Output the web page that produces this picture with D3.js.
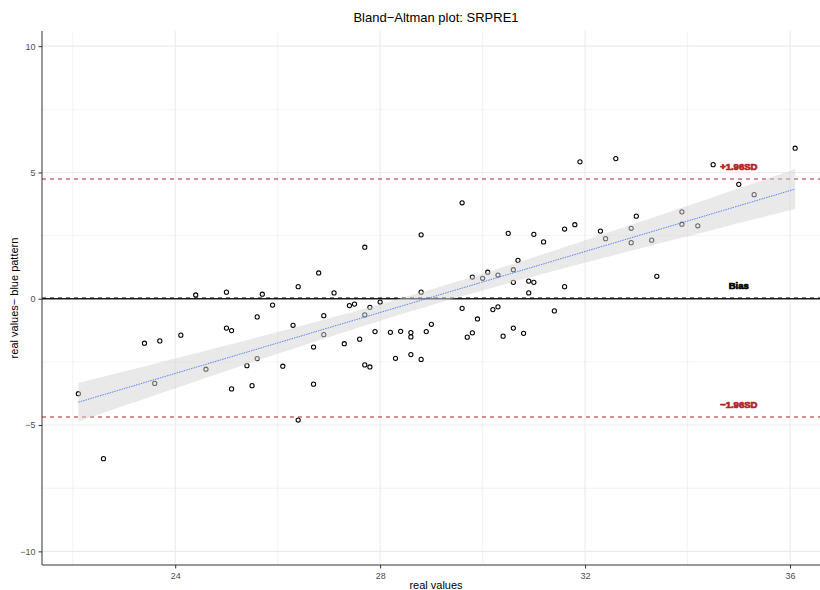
<!DOCTYPE html>
<html>
<head>
<meta charset="utf-8">
<script src="https://cdn.jsdelivr.net/npm/d3@7/dist/d3.min.js"></script>
<style>
  body { margin: 0; background: #fff; }
  text { font-family: "Liberation Sans", Arial, sans-serif; }
</style>
</head>
<body>
<div id="chart"></div>
<script>
// x = mean of the two methods (real values), y = difference
var meanVals = [
  24.40, 25.00, 25.70, 26.40, 25.90, 25.60, 26.30, 23.40, 23.70, 24.11,
  25.00, 25.10, 22.11, 23.60, 24.60, 25.40, 25.60, 26.10, 25.10, 25.50,
  26.40, 22.60,
  29.60, 30.50, 31.00, 31.19, 28.80, 27.70, 26.80, 27.10, 28.80, 30.69,
  30.60, 30.10, 29.80, 30.00, 30.30, 30.60, 30.90, 31.00, 30.90, 27.40,
  27.50, 27.80, 28.00, 26.90, 27.70, 29.60, 30.20, 30.30, 31.40, 29.90,
  29.00, 26.90, 26.70, 27.30, 27.60, 27.90, 28.20, 28.40, 28.60, 28.60,
  28.90, 29.70, 29.80, 30.40, 30.60, 30.80, 27.70, 27.80, 28.30, 28.60,
  28.80, 26.70,
  31.90, 32.60, 34.50, 36.10, 35.00, 35.30, 33.89, 33.00, 31.80, 31.60,
  32.30, 32.90, 32.40, 32.90, 33.30, 33.89, 34.20, 31.60, 33.40
];
var diffVals = [
  0.15, 0.26, 0.18, 0.48, -0.25, -0.72, -1.05, -1.76, -1.67, -1.44,
  -1.16, -1.26, -3.76, -3.35, -2.79, -2.65, -2.37, -2.67, -3.57, -3.44,
  -4.80, -6.33,
  3.80, 2.59, 2.55, 2.25, 2.53, 2.04, 1.02, 0.23, 0.26, 1.52,
  1.15, 1.05, 0.86, 0.81, 0.94, 0.65, 0.70, 0.65, 0.23, -0.27,
  -0.21, -0.34, -0.13, -0.67, -0.64, -0.38, -0.43, -0.32, -0.48, -0.80,
  -1.01, -1.42, -1.91, -1.78, -1.60, -1.30, -1.33, -1.29, -1.34, -1.51,
  -1.30, -1.52, -1.35, -1.48, -1.16, -1.37, -2.62, -2.70, -2.36, -2.21,
  -2.40, -3.38,
  5.42, 5.55, 5.31, 5.96, 4.53, 4.12, 3.44, 3.27, 2.93, 2.76,
  2.68, 2.79, 2.38, 2.22, 2.32, 2.95, 2.89, 0.48, 0.89
];

// reference lines
var limitNames = ["+1.96SD", "Bias", "\u22121.96SD"];
var limitVals = [4.74, 0.03, -4.68];
var limitColors = ["#b22222", "#000000", "#b22222"];

var xTicks = [24, 28, 32, 36];
var xMinor = [22, 26, 30, 34];
var yTicks = [-10, -5, 0, 5, 10];
var yMinor = [-7.5, -2.5, 2.5, 7.5];

var W = 820, H = 590;
var margin = {top: 31, left: 42};
var pw = 789, ph = 534;

var svg = d3.select("#chart").append("svg")
  .attr("width", W).attr("height", H);

var x = d3.scaleLinear().domain([21.4, 36.8]).range([0, pw]);
var y = d3.scaleLinear().domain([-10.54, 10.60]).range([ph, 0]);

var g = svg.append("g")
  .attr("transform", "translate(" + margin.left + "," + margin.top + ")");

// grid
g.selectAll(".gxm").data(xMinor).enter().append("line")
  .attr("x1", d => x(d)).attr("x2", d => x(d)).attr("y1", 0).attr("y2", ph)
  .attr("stroke", "#ebebeb").attr("stroke-width", 0.6);
g.selectAll(".gym").data(yMinor).enter().append("line")
  .attr("y1", d => y(d)).attr("y2", d => y(d)).attr("x1", 0).attr("x2", pw)
  .attr("stroke", "#ebebeb").attr("stroke-width", 0.6);
g.selectAll(".gx").data(xTicks).enter().append("line")
  .attr("x1", d => x(d)).attr("x2", d => x(d)).attr("y1", 0).attr("y2", ph)
  .attr("stroke", "#ebebeb").attr("stroke-width", 1.1);
g.selectAll(".gy").data(yTicks).enter().append("line")
  .attr("y1", d => y(d)).attr("y2", d => y(d)).attr("x1", 0).attr("x2", pw)
  .attr("stroke", "#ebebeb").attr("stroke-width", 1.1);

// zero line + limits
g.append("line")
  .attr("x1", 0).attr("x2", pw).attr("y1", y(0)).attr("y2", y(0))
  .attr("stroke", "#222").attr("stroke-width", 1.3);
g.selectAll(".lim").data(limitVals).enter().append("line")
  .attr("x1", 0).attr("x2", pw)
  .attr("y1", d => y(d)).attr("y2", d => y(d))
  .attr("stroke", (d, i) => limitColors[i])
  .attr("stroke-width", 1)
  .attr("stroke-dasharray", "4,4");

// points
var pts = meanVals.map((v, i) => ({x: v, y: diffVals[i]}));
g.selectAll(".pt").data(pts).enter().append("circle")
  .attr("cx", d => x(d.x)).attr("cy", d => y(d.y)).attr("r", 2.1)
  .attr("fill", "none").attr("stroke", "#000").attr("stroke-width", 1.05);

// linear fit with 95% band (like geom_smooth(method = "lm"))
var n = pts.length;
var mx = d3.mean(meanVals), my = d3.mean(diffVals);
var sxx = d3.sum(meanVals, v => (v - mx) * (v - mx));
var sxy = d3.sum(pts, d => (d.x - mx) * (d.y - my));
var b = sxy / sxx, a = my - b * mx;
var sse = d3.sum(pts, d => Math.pow(d.y - (a + b * d.x), 2));
var s = Math.sqrt(sse / (n - 2));
var tq = 1.986;
var xr = d3.extent(meanVals);
var fit = d3.range(0, 81).map(function(i) {
  var xv = xr[0] + (xr[1] - xr[0]) * i / 80;
  var se = s * Math.sqrt(1 / n + (xv - mx) * (xv - mx) / sxx);
  var yh = a + b * xv;
  return {x: xv, y: yh, lo: yh - tq * se, hi: yh + tq * se};
});

g.append("path").datum(fit)
  .attr("d", d3.area().x(d => x(d.x)).y0(d => y(d.lo)).y1(d => y(d.hi)))
  .attr("fill", "#d3d3d3").attr("fill-opacity", 0.5);
g.append("path").datum(fit)
  .attr("d", d3.line().x(d => x(d.x)).y(d => y(d.y)))
  .attr("fill", "none").attr("stroke", "#3366ff")
  .attr("stroke-width", 0.8).attr("stroke-dasharray", "1.5,1");

// labels (heavy, as if overprinted)
g.selectAll(".lab").data(limitVals).enter().append("text")
  .attr("x", x(35.0)).attr("y", d => y(d + 0.5))
  .attr("dy", "0.35em").attr("text-anchor", "middle")
  .attr("font-size", 9.5).attr("font-weight", "bold")
  .attr("fill", (d, i) => limitColors[i])
  .attr("stroke", (d, i) => limitColors[i]).attr("stroke-width", 0.7)
  .text((d, i) => limitNames[i]);

// axes
var xAxis = g.append("g").attr("transform", "translate(0," + ph + ")")
  .call(d3.axisBottom(x).tickValues(xTicks).tickSize(3.5).tickPadding(4));
var yAxis = g.append("g")
  .call(d3.axisLeft(y).tickValues(yTicks).tickSize(3.5).tickPadding(3)
    .tickFormat(d => d < 0 ? "\u2212" + Math.abs(d) : d));
[xAxis, yAxis].forEach(function(ax) {
  ax.select(".domain").attr("stroke", "#333").attr("stroke-width", 1);
  ax.selectAll(".tick line").attr("stroke", "#333");
  ax.selectAll(".tick text").attr("fill", "#4d4d4d").attr("font-size", 9)
    .attr("font-family", "Liberation Sans, Arial, sans-serif");
});
// keep the axis lines to the visible panel only
xAxis.select(".domain").attr("d", "M0,0H" + pw);
yAxis.select(".domain").attr("d", "M0,0V" + ph);

// titles
svg.append("text").attr("x", 436).attr("y", 22)
  .attr("text-anchor", "middle").attr("font-size", 13).attr("fill", "#000")
  .text("Bland\u2212Altman plot: SRPRE1");
svg.append("text").attr("x", 436).attr("y", 589)
  .attr("text-anchor", "middle").attr("font-size", 11).attr("fill", "#000")
  .text("real values");
svg.append("text")
  .attr("transform", "translate(18," + (margin.top + ph / 2) + ") rotate(-90)")
  .attr("text-anchor", "middle").attr("font-size", 11).attr("fill", "#000")
  .text("real values\u2212 blue pattern");
</script>
</body>
</html>
